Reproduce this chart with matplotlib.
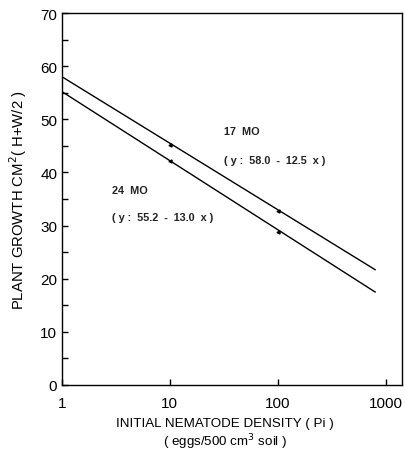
import matplotlib.pyplot as plt
from matplotlib.ticker import FixedLocator, NullLocator

plt.rcParams['font.family'] = ['Liberation Sans', 'DejaVu Sans']

# regression lines (end points) and observed points
line_x = [1, 800]
line_17 = [58.0, 21.7]
line_24 = [55.2, 17.5]
pts_x = [10, 100]
pts_17 = [45.1, 32.8]
pts_24 = [42.2, 28.8]
x_ticks = [1, 10, 100, 1000]
x_ticklabels = ['1', '10', '100', '1000']

fig = plt.figure(figsize=(4.06, 4.56), dpi=100)
ax = fig.add_axes([62 / 406, 1 - 386 / 456, 340 / 406, 372 / 456])

ax.plot(line_x, line_17, color='black', lw=1.0)
ax.plot(line_x, line_24, color='black', lw=1.0)
ax.plot(pts_x, pts_17, ls='none', marker='<', ms=2.2, color='black')
ax.plot(pts_x, pts_24, ls='none', marker='<', ms=2.2, color='black')

ax.set_xscale('log')
ax.set_xlim(1, 1420)
ax.set_ylim(0, 70)
ax.xaxis.set_major_locator(FixedLocator(x_ticks))
ax.xaxis.set_minor_locator(NullLocator())
ax.set_xticklabels(x_ticklabels)
ax.set_yticks(range(0, 71, 10))
ax.set_yticks(range(5, 70, 10), minor=True)
ax.tick_params(which='both', direction='in', labelsize=11, width=1, length=4)
ax.tick_params(axis='x', pad=8)
for s in ax.spines.values():
    s.set_linewidth(1.0)

kw = dict(transform=ax.transAxes, fontsize=7.8, fontweight='bold', va='center',
          color='#222222')
ax.text(0.476, 0.683, '17  MO', **kw)
ax.text(0.476, 0.605, '( y :  58.0  -  12.5  x )', **kw)
ax.text(0.147, 0.524, '24  MO', **kw)
ax.text(0.147, 0.452, '( y :  55.2  -  13.0  x )', **kw)

ax.set_ylabel('PLANT GROWTH CM$^2$( H+W/2 )', fontsize=10.7, labelpad=8)
fig.text(225 / 406, 1 - 424 / 456, 'INITIAL NEMATODE DENSITY ( Pi )',
         ha='center', va='center', fontsize=9.6)
fig.text(225 / 406, 1 - 442 / 456, '( eggs/500 cm$^3$ soil )',
         ha='center', va='center', fontsize=9.6)

fig.savefig('out.png', dpi=100)
